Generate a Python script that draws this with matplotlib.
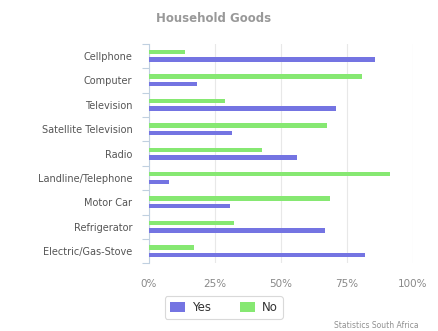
import numpy as np
import matplotlib.pyplot as plt

goods = ['Cellphone', 'Computer', 'Television', 'Satellite Television', 'Radio',
         'Landline/Telephone', 'Motor Car', 'Refrigerator', 'Electric/Gas-Stove']
yes = [85.5, 18.2, 70.7, 31.5, 56.0, 7.6, 30.6, 66.8, 81.9]
no = [13.5, 80.5, 28.7, 67.5, 42.9, 91.3, 68.4, 32.2, 17.0]
xticks = [0, 25, 50, 75, 100]

blue = '#7474e2'
green = '#86e872'

fig = plt.figure(figsize=(4.38, 3.31), dpi=100)
ax = fig.add_axes([0.340, 0.204, 0.603, 0.664])

y = np.arange(len(goods))
h = 0.18
off = 0.155
ax.barh(y + off, yes, height=h, color=blue, label='Yes', zorder=3)
ax.barh(y - off, no, height=h, color=green, label='No', zorder=3)

ax.set_xlim(0, 100)
ax.set_ylim(len(goods) - 0.5, -0.5)
ax.set_xticks(xticks)
ax.set_xticklabels([f'{t}%' for t in xticks], color='#888888', fontsize=7.5)
ax.tick_params(axis='x', length=0, pad=11)
ax.xaxis.grid(True, color='#e8e8e8', lw=0.8, zorder=0)

ax.set_yticks(y)
ax.set_yticklabels(goods, fontsize=7, color='#555555')
ax.set_yticks(np.arange(len(goods) + 1) - 0.5, minor=True)
ax.tick_params(axis='y', which='major', length=0, pad=12)
ax.tick_params(axis='y', which='minor', length=5, color='#c0d0e0', width=0.8)

for s in ['top', 'right', 'bottom']:
    ax.spines[s].set_visible(False)
ax.spines['left'].set_color('#c0d0e0')
ax.spines['left'].set_linewidth(0.8)

fig.text(0.487, 0.945, 'Household Goods', ha='center', va='center',
         fontsize=8.5, fontweight='bold', color='#999999')

handles, labels = ax.get_legend_handles_labels()
leg = fig.legend(handles, labels, loc='center', bbox_to_anchor=(0.511, 0.071),
                 ncol=2, fontsize=8.5, frameon=True, handlelength=1.3,
                 handleheight=1.0, columnspacing=2.4, handletextpad=0.6,
                 borderpad=0.4, fancybox=True)
leg.get_frame().set_edgecolor('#d0d0d0')
leg.get_frame().set_linewidth(0.8)
for t in leg.get_texts():
    t.set_color('#333333')

fig.text(0.955, 0.018, 'Statistics South Africa', ha='right', va='center',
         fontsize=5.5, color='#909090')

fig.savefig('out.png', dpi=100)
